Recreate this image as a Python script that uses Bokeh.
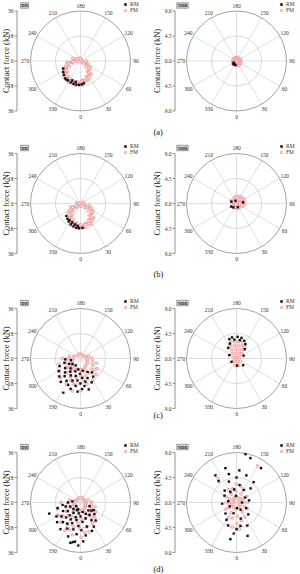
import math
from bokeh.plotting import figure
from bokeh.layouts import column, row
from bokeh.models import Range1d, Legend, LegendItem
from bokeh.core.properties import value
from bokeh.embed import file_html
from bokeh.resources import INLINE

FONT = "Liberation Serif"

# ---------------- data ----------------
angle_ticks = [0, 30, 60, 90, 120, 150, 180, 210, 240, 270, 300, 330]
angle_labels = ["0", "30", "60", "90", "120", "150", "180", "210", "240", "270", "300", "330"]
db_tick_vals = [36, 18, 0, -18, -36]
db_tick_labels = ["36", "18", "0", "18", "36"]
ndb_tick_vals = [9, 4.5, 0, -4.5, -9]
ndb_tick_labels = ["9.0", "4.5", "0.0", "4.5", "9.0"]
captions = ["(a)", "(b)", "(c)", "(d)"]

# (a) DB
rm_a_db_ang = [318.7, 327.3, 335.7, 343.1, 350.0, 356.7, 3.4, 309.8, 302.6, 336.8, 346.9, 323.5, 293.7, 8.9]
rm_a_db_f = [16.7, 16.6, 17.0, 17.2, 17.3, 17.2, 16.8, 15.6, 14.8, 15.2, 15.4, 16.8, 13.7, 16.2]
fm_a_db_ang = [351.6, 357.6, 4.1, 5.9, 13.4, 21.3, 20.1, 29.5, 39.3, 33.9, 46.3, 59.9, 46.2, 65.7, 90.8, 48.6,
               126.6, 191.6, 277.8, 255.3, 252.2, 282.3, 276.9, 276.8, 294.9, 294.0, 295.9, 308.7, 310.2, 313.5,
               322.9, 326.1, 330.5, 337.2, 341.8, 347.3,
               355.3, 4.3, 15.8, 28.4, 33.9, 48.7, 67.4, 62.0, 177.6, 241.1, 275.5, 280.4, 289.0, 304.8,
               313.1, 322.8, 334.5, 344.4]
fm_a_db_f = [15.1, 16.2, 17.0, 14.0, 14.7, 15.1, 12.0, 12.2, 12.1, 9.2, 8.8, 8.3, 5.7, 4.9, 4.2, 1.9,
             1.0, 2.3, 2.2, 3.8, 5.9, 6.0, 7.9, 9.9, 9.4, 11.4, 13.4, 12.2, 14.1, 16.0,
             14.1, 15.9, 17.5, 15.1, 16.6, 17.9,
             16.9, 14.7, 14.2, 13.1, 10.0, 8.1, 5.9, 2.6, 0.7, 3.4, 5.5, 8.4, 11.3, 12.1,
             14.4, 16.2, 15.5, 16.5]
# (a) NDB
rm_a_ndb_ang = [330, 315, 345, 300]
rm_a_ndb_f = [0.70, 0.80, 0.75, 0.60]
fm_a_ndb_ang = [4.8, 16.7, 29.6, 41.7, 55.3, 69.5, 79.7, 95.7, 112.0, 122.2, 141.0, 159.1, 172.9, 192.6,
                210.6, 230.1, 246.3, 261.6, 282.5, 294.9, 307.9, 326.2, 337.5, 349.8]
fm_a_ndb_f = [0.60, 0.76, 0.91, 0.61, 0.75, 0.88, 0.56, 0.68, 0.80, 0.48, 0.60, 0.72, 0.40, 0.54,
              0.69, 0.40, 0.56, 0.73, 0.46, 0.64, 0.81, 0.55, 0.72, 0.89]
# (b) DB
rm_b_db_ang = [319.2, 326.8, 335.0, 343.1, 350.3, 356.8, 4.9, 336.0, 311.4, 345.1, 353.0, 326.3]
rm_b_db_f = [14.5, 15.5, 16.6, 17.2, 17.8, 17.8, 17.6, 14.8, 13.6, 15.5, 16.3, 14.4]
fm_b_db_ang = [1.1, 5.9, 11.4, 14.1, 20.4, 27.3, 26.8, 34.8, 43.3, 38.7, 49.0, 59.9, 48.5, 62.4, 78.4, 51.0,
               72.1, 111.5, 8.5, 299.6, 263.3, 314.2, 296.1, 289.6, 314.6, 308.6, 307.5, 323.9, 322.5, 323.9,
               335.6, 336.9, 339.9, 348.2, 351.3, 355.7,
               3.5, 12.6, 23.1, 34.5, 39.3, 52.2, 66.5, 59.6, 76.5, 226.2, 305.8, 296.1, 300.9, 318.9,
               324.3, 332.7, 345.1, 353.7]
fm_b_db_f = [15.0, 16.5, 17.7, 14.6, 15.6, 16.4, 13.2, 13.7, 13.9, 10.9, 10.8, 10.6, 7.9, 7.3, 6.5, 4.6,
             3.2, 2.1, 2.0, 1.3, 2.9, 4.1, 5.4, 7.3, 7.5, 9.2, 11.3, 10.5, 12.5, 14.5,
             12.9, 14.8, 16.7, 14.4, 16.2, 17.8,
             17.5, 15.4, 15.6, 14.9, 11.8, 10.4, 8.4, 5.1, 2.5, 0.7, 3.4, 6.1, 9.1, 10.5,
             13.1, 15.4, 14.9, 16.5]
# (b) NDB
rm_b_ndb_ang = [320, 300, 20, 250, 200, 100]
rm_b_ndb_f = [0.9, 1.1, 0.7, 1.0, 0.5, 1.2]
fm_b_ndb_ang = [123.7, 122.0, 198.4, 51.3, 0.0, 99.5, 260.5, 160.0, 56.3, 201.8, 116.6, 299.7, 151.7,
                180.0, 72.9, 240.9, 18.4, 339.4, 132.3, 90.0, 168.7, 90.0, 239.0, 127.9, 351.9]
fm_b_ndb_f = [0.36, 0.94, 0.63, 0.64, 0.30, 1.22, 0.61, 1.17, 1.08, 1.08, 1.57, 0.81, 1.48,
              1.40, 1.36, 1.03, 0.95, 0.85, 1.49, 1.55, 0.51, 0.60, 0.58, 1.14, 0.71]
# (c) DB
rm_c_db_ang = [285, 290, 295, 300, 302, 305, 310, 312, 315, 318, 320, 322, 325, 328, 330, 333.3, 335, 338,
               340, 342, 345, 348, 350, 352, 355, 358, 0, 3, 5, 8, 10, 12, 15, 20, 25, 28, 35, 40, 280, 273]
rm_c_db_f = [12, 16, 9, 18, 13, 7, 20, 15, 10, 17, 22, 12, 6, 19, 14, 27.6, 21, 10,
             17, 23, 13, 8, 20, 16, 24, 11, 18, 22, 14, 20, 9, 17, 23, 15, 19, 11, 16, 13, 7, 11]
fm_c_db_ang = [253, 258, 268, 272, 269, 283, 287, 285, 298, 302, 301, 313, 317, 314, 328, 332, 331,
               343, 347, 344, 346, 358, 2, 359, 1, 13, 17, 14, 28, 32, 29, 43, 47, 45, 58, 62, 59,
               73, 77, 74, 88, 92, 103, 107, 130, 160, 190, 220, 322, 338, 8, 22, 52, 308]
fm_c_db_f = [5, 8, 5, 9, 13, 6, 11, 16, 7, 12, 18, 8, 14, 20, 9, 15, 21,
             8, 14, 19, 24, 8, 13, 18, 23, 8, 13, 19, 7, 12, 18, 6, 11, 16, 6, 10, 14,
             5, 9, 12, 5, 8, 4, 6, 3, 3, 3.5, 3, 11.5, 17, 16, 10, 13, 10.5]
# (c) NDB
rm_c_ndb_ang = [200.4, 191.9, 177.1, 166.3, 156.4, 204.0, 169.7, 186.7, 148.4, 218.3, 138.6, 245.2,
                45.0, 4.4, 303.7, 111.0]
rm_c_ndb_f = [3.73, 3.88, 3.91, 3.81, 3.49, 2.95, 3.35, 3.42, 3.05, 2.42, 2.27, 1.43,
              1.70, 1.30, 1.08, 1.39]
fm_c_ndb_ang = [198.4, 185.7, 172.4, 159.9, 205.6, 189.9, 172.6, 156.5, 146.9, 209.4, 187.1, 162.6,
                143.1, 221.6, 186.3, 146.3, 132.0, 251.6, 180.0, 108.4, 321.3, 21.8, 54.5, 350.5, 14.0]
fm_c_ndb_f = [3.16, 3.01, 3.03, 3.20, 2.55, 2.33, 2.32, 2.51, 2.75, 1.84, 1.61, 1.68,
              2.00, 1.20, 0.91, 1.08, 1.35, 0.63, 0.20, 0.63, 0.64, 0.54, 0.86, 1.22, 1.24]
# (d) DB
rm_d_db_ang = [262, 270, 278, 284, 289.6, 292, 296, 300, 304, 306, 310, 313, 316, 318, 320, 323, 326, 328,
               330, 333, 336, 338, 340, 342, 345, 347, 349, 351, 353, 355, 357, 0, 2, 4, 6, 9, 12, 15,
               18, 22, 25, 28.9, 32, 36, 40, 45, 50, 53.7, 60, 68, 346, 352, 340, 310, 285]
rm_d_db_f = [6, 9, 13, 17, 23.9, 8, 14, 20, 11, 17, 22, 7, 15, 19, 12, 24, 9, 18,
             14, 21, 6, 16, 26, 11, 20, 13, 29, 8, 23, 17, 31, 10, 20, 28, 14, 24, 7, 18,
             12, 22, 9, 19.9, 15, 11, 17, 8, 13, 9.8, 11, 7, 30, 28.5, 5, 4, 11]
fm_d_db_ang = [253, 257, 268, 272, 270, 283, 287, 284, 298, 302, 300, 313, 317, 315, 328, 332, 329, 331,
               343, 347, 344, 346, 358, 2, 359, 1, 13, 17, 14, 16, 28, 32, 30, 43, 47, 44, 58, 62, 59,
               73, 77, 74, 88, 92, 103, 107, 120, 150, 180, 210, 240, 308, 323, 338, 353, 8, 22, 38, 292]
fm_d_db_f = [4, 8, 4, 9, 14, 5, 11, 17, 5, 12, 19, 6, 13, 20, 6, 12, 18, 23,
             6, 12, 18, 24, 6, 12, 19, 25, 6, 12, 18, 22, 5, 11, 17, 5, 10, 15, 4, 9, 13,
             4, 8, 11, 4, 8, 3, 6, 3, 3.5, 3.5, 3.5, 3, 16, 9, 21, 15, 22, 8, 13, 8]
# (d) NDB
rm_d_ndb_ang = [169.5, 162.6, 144.6, 197.9, 217.8, 350.5, 18.4, 9.5, 180, 170, 190, 160, 200, 150, 210,
                135, 225, 120, 240, 100, 260, 90, 275, 60, 300, 45, 315, 30, 330, 15, 345, 0, 5, 355,
                185, 175, 195, 25, 340, 220, 140]
rm_d_ndb_f = [8.85, 8.38, 7.6, 6.51, 6.2, 6.69, 6.32, 4.26, 4.5, 3.2, 2.4, 5.2, 4.0, 2.6, 2.2,
              3.6, 3.0, 1.8, 2.5, 2.3, 1.5, 1.0, 2.6, 2.0, 1.4, 3.0, 2.8, 1.5, 3.6, 3.0, 2.0, 4.8, 1.0, 5.6,
              1.2, 5.8, 5.3, 4.6, 4.4, 5.0, 4.8]
fm_d_ndb_ang = [358, 3, 1, 28, 33, 30, 58, 63, 61, 88, 93, 91, 118, 123, 121, 148, 153, 151, 178, 183, 181,
                208, 213, 211, 238, 243, 241, 268, 273, 271, 298, 303, 301, 328, 333, 331,
                217.5, 150.1, 5.9, 349.7, 15, 195, 345, 165]
fm_d_ndb_f = [1.2, 2.5, 3.8, 1.0, 2.0, 3.0, 0.8, 1.6, 2.2, 0.6, 1.3, 2.0, 0.7, 1.4, 2.1, 0.9, 1.8, 2.7,
              1.0, 2.1, 3.3, 0.9, 1.8, 2.7, 0.7, 1.4, 2.1, 0.6, 1.3, 1.9, 0.8, 1.6, 2.3, 1.0, 2.1, 3.1,
              5.42, 7.62, 4.83, 4.47, 3.4, 2.6, 2.9, 3.0]


def to_xy(angs, forces):
    n = min(len(angs), len(forces))
    xs = [forces[i] * math.sin(math.radians(angs[i])) for i in range(n)]
    ys = [-forces[i] * math.cos(math.radians(angs[i])) for i in range(n)]
    return xs, ys


def panel(side, kind, rm_ang, rm_f, fm_ang, fm_f, H, cy, caption=None, cap_y=None):
    W = 150
    cx = 80.0 if side == "L" else 86.0
    ax_px = 16.5 if side == "L" else 24.5
    title_px = 5.5 if side == "L" else 6.5
    if kind == "DB":
        rmax, tvals, tlabels = 36.0, db_tick_vals, db_tick_labels
    else:
        rmax, tvals, tlabels = 9.0, ndb_tick_vals, ndb_tick_labels
    k = 50.0 / rmax

    def X(px):
        return (px - cx) / k

    def Y(py):
        return (cy - py) / k

    p = figure(width=W, height=H, x_range=Range1d(X(0), X(W)), y_range=Range1d(Y(H), Y(0)),
               output_backend="svg", toolbar_location=None, min_border=0,
               x_axis_location=None, y_axis_location=None)
    p.outline_line_color = None
    p.background_fill_color = "white"
    p.border_fill_color = "white"
    p.grid.visible = False

    # polar grid
    sx = [rmax * math.sin(math.radians(a)) for a in angle_ticks]
    sy = [-rmax * math.cos(math.radians(a)) for a in angle_ticks]
    p.segment(x0=[0] * len(sx), y0=[0] * len(sy), x1=sx, y1=sy, line_color="#dcdcdc", line_width=0.9)
    p.circle(x=[0], y=[0], radius=rmax / 2, fill_color=None, line_color="#d2d2d2", line_width=0.9)
    p.circle(x=[0], y=[0], radius=rmax, fill_color=None, line_color="#8a8a8a", line_width=0.8)

    rl = 55.5 / k
    lx = [rl * math.sin(math.radians(a)) for a in angle_ticks]
    ly = [-rl * math.cos(math.radians(a)) for a in angle_ticks]
    p.text(x=lx, y=ly, text=angle_labels, text_font=value(FONT), text_font_size="5.5px",
           text_color="#333333", text_align="center", text_baseline="middle")

    # radial axis on the left
    axx = X(ax_px)
    p.segment(x0=[axx], y0=[-rmax], x1=[axx], y1=[rmax], line_color="#777777", line_width=0.8)
    p.segment(x0=[X(ax_px - 2.5)] * len(tvals), y0=tvals, x1=[axx] * len(tvals), y1=tvals,
              line_color="#777777", line_width=0.8)
    p.text(x=[X(ax_px - 3.5)] * len(tvals), y=tvals, text=tlabels, text_font=value(FONT),
           text_font_size="5.5px", text_color="#333333", text_align="right", text_baseline="middle")
    p.text(x=[X(title_px)], y=[0], text=["Contact force (kN)"], angle=math.pi / 2,
           text_font=value(FONT), text_font_size="8.5px", text_color="#222222",
           text_align="center", text_baseline="middle")

    # panel tag
    bw = 8 if kind == "DB" else 11.5
    bxc = (cx - 56) if kind == "DB" else (cx - 54)
    p.rect(x=[X(bxc)], y=[Y(cy - 55.5)], width=bw, height=5.5, width_units="screen",
           height_units="screen", fill_color="#d6d6d6", line_color="#555555", line_width=0.5)
    p.text(x=[X(bxc)], y=[Y(cy - 55.5)], text=[kind], text_font=value(FONT), text_font_size="4.6px",
           text_font_style="bold", text_color="#222222", text_align="center", text_baseline="middle")

    # data
    fx, fy = to_xy(fm_ang, fm_f)
    rx, ry = to_xy(rm_ang, rm_f)
    fm_r = p.scatter(x=fx, y=fy, marker="circle", size=2.9, line_color="#e87878",
                     fill_color="#fbdcdc", line_width=0.55)
    rm_r = p.scatter(x=rx, y=ry, marker="square", size=2.2, fill_color="#111111", line_color="#111111",
                     line_width=0.2)

    top = max(cy - 61.0, 0.0)
    legend = Legend(items=[LegendItem(label="RM", renderers=[rm_r]),
                           LegendItem(label="FM", renderers=[fm_r])],
                    location=(cx + 42.0, H - top - 13.0),
                    label_text_font=FONT, label_text_font_size="5.5px", label_text_color="#333333",
                    glyph_width=6, glyph_height=6, label_height=6, label_width=8, spacing=0,
                    padding=0, margin=0, label_standoff=2, border_line_color=None,
                    background_fill_alpha=0)
    p.add_layout(legend)

    if caption is not None:
        p.text(x=[X(3)], y=[Y(cap_y)], text=[caption], text_font=value(FONT), text_font_size="8.5px",
               text_color="#111111", text_align="left", text_baseline="middle")
    return p


rows_spec = [
    (138, 60.5, 131.0, (rm_a_db_ang, rm_a_db_f, fm_a_db_ang, fm_a_db_f),
     (rm_a_ndb_ang, rm_a_ndb_f, fm_a_ndb_ang, fm_a_ndb_f)),
    (145, 65.0, 135.0, (rm_b_db_ang, rm_b_db_f, fm_b_db_ang, fm_b_db_f),
     (rm_b_ndb_ang, rm_b_ndb_f, fm_b_ndb_ang, fm_b_ndb_f)),
    (145, 75.0, 131.0, (rm_c_db_ang, rm_c_db_f, fm_c_db_ang, fm_c_db_f),
     (rm_c_ndb_ang, rm_c_ndb_f, fm_c_ndb_ang, fm_c_ndb_f)),
    (146, 74.0, 140.5, (rm_d_db_ang, rm_d_db_f, fm_d_db_ang, fm_d_db_f),
     (rm_d_ndb_ang, rm_d_ndb_f, fm_d_ndb_ang, fm_d_ndb_f)),
]

rows = []
for i, (H, cy, cap_y, dbd, ndbd) in enumerate(rows_spec):
    left = panel("L", "DB", *dbd, H=H, cy=cy)
    right = panel("R", "NDB", *ndbd, H=H, cy=cy, caption=captions[i], cap_y=cap_y)
    rows.append(row(left, right, spacing=0))

layout = column(*rows, spacing=0)

with open("out.html", "w") as f:
    f.write(file_html(layout, INLINE))
